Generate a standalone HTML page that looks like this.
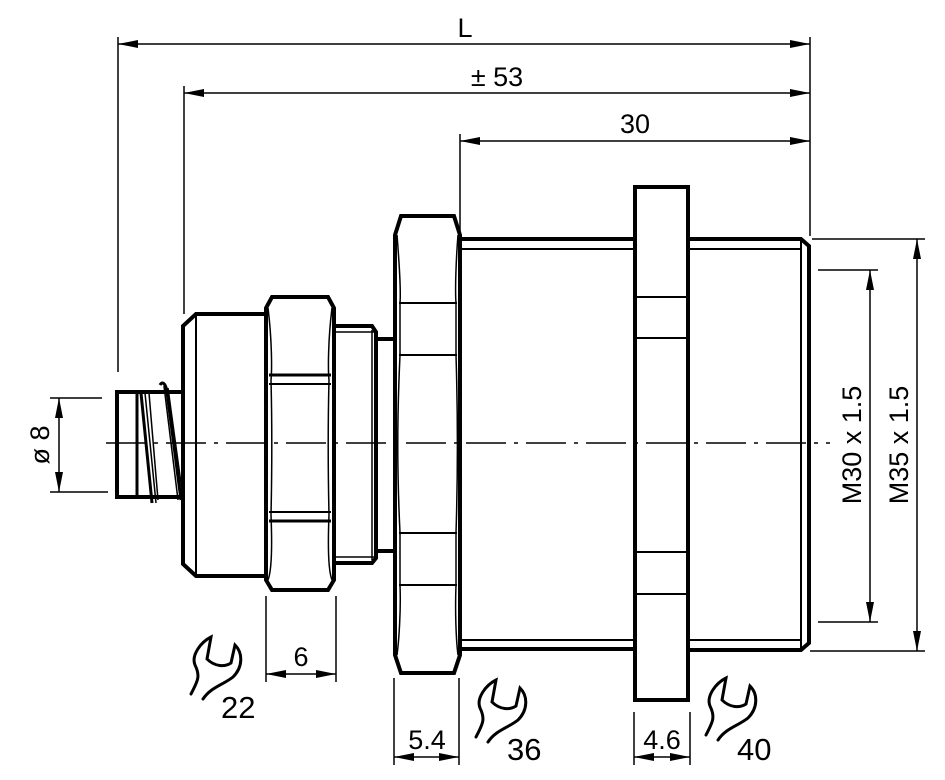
<!DOCTYPE html>
<html><head><meta charset="utf-8"><style>
html,body{margin:0;padding:0;background:#fff}
svg{display:block}
text{font-family:"Liberation Sans",Arial,sans-serif;fill:#000}
</style></head><body>
<svg width="945" height="780" viewBox="0 0 945 780" xmlns="http://www.w3.org/2000/svg">
<defs>
<marker id="a" viewBox="0 0 20 8" refX="20" refY="4" markerWidth="20" markerHeight="8" markerUnits="userSpaceOnUse" orient="auto-start-reverse"><path d="M0,0 L20,4 L0,8 Z" fill="#000"/></marker>
</defs>
<g stroke="#000" fill="none">
<g stroke-width="1.5">
<line x1="118" y1="37" x2="118" y2="372"/>
<line x1="810" y1="37" x2="810" y2="236"/>
<line x1="184" y1="86" x2="184" y2="314"/>
<line x1="460" y1="134" x2="460" y2="236"/>
<line x1="118" y1="44" x2="810" y2="44" marker-start="url(#a)" marker-end="url(#a)"/>
<line x1="184" y1="93" x2="810" y2="93" marker-start="url(#a)" marker-end="url(#a)"/>
<line x1="460" y1="141" x2="810" y2="141" marker-start="url(#a)" marker-end="url(#a)"/>
<line x1="50" y1="398" x2="102" y2="398"/>
<line x1="50" y1="492" x2="108" y2="492"/>
<line x1="59" y1="398" x2="59" y2="492" marker-start="url(#a)" marker-end="url(#a)"/>
<line x1="818" y1="270" x2="878" y2="270"/>
<line x1="818" y1="622" x2="878" y2="622"/>
<line x1="870" y1="270" x2="870" y2="622" marker-start="url(#a)" marker-end="url(#a)"/>
<line x1="812" y1="239" x2="925" y2="239"/>
<line x1="810" y1="651" x2="925" y2="651"/>
<line x1="917" y1="239" x2="917" y2="651" marker-start="url(#a)" marker-end="url(#a)"/>
<line x1="266" y1="596" x2="266" y2="682"/>
<line x1="336" y1="596" x2="336" y2="682"/>
<line x1="266" y1="674" x2="336" y2="674" marker-start="url(#a)" marker-end="url(#a)"/>
<line x1="394" y1="678" x2="394" y2="765"/>
<line x1="459" y1="678" x2="459" y2="765"/>
<line x1="394" y1="757" x2="459" y2="757" marker-start="url(#a)" marker-end="url(#a)"/>
<line x1="634" y1="712" x2="634" y2="765"/>
<line x1="690" y1="712" x2="690" y2="765"/>
<line x1="634" y1="757" x2="690" y2="757" marker-start="url(#a)" marker-end="url(#a)"/>
</g>
<line x1="106" y1="443" x2="830" y2="443" stroke-width="1.5" stroke-dasharray="40,8,4,8"/>

<!-- connector -->
<g stroke-width="4">
<path d="M182,392 L117,392 L117,497 L182,497"/>
<line x1="137" y1="392" x2="137" y2="497" stroke-width="3"/>
<path d="M141,393 L152,503" stroke-width="3"/>
<path d="M145,393 L156,503" stroke-width="1.5"/>
<path d="M149,393 L158,500" stroke-width="1.5"/>
<path d="M160,385 C163,380 166,385 167,392 L181,500" stroke-width="3"/>
<path d="M164,386 L178,500" stroke-width="1.5"/>
<path d="M168,388 L183,498" stroke-width="1.5"/>
</g>
<g stroke-width="4">
<path d="M196,314 L266,314 L266,576 L196,576 L183,564 L183,326 Z"/>
<line x1="196" y1="314" x2="196" y2="576" stroke-width="2"/>
<path d="M272,297 L328,297 L334,308 L334,580 L328,590 L272,590 L266,580 L266,308 Z"/>
<line x1="269" y1="375" x2="331" y2="375" stroke-width="3"/>
<line x1="269" y1="384" x2="331" y2="384" stroke-width="2"/>
<line x1="269" y1="512" x2="331" y2="512" stroke-width="2"/>
<line x1="269" y1="521" x2="331" y2="521" stroke-width="3"/>
<path d="M268,308 C272,340 272,370 271,380 C272,420 272,470 271,515 C272,540 272,570 268,580" stroke-width="1.5"/>
<path d="M332,308 C328,340 328,370 329,380 C328,420 328,470 329,515 C328,540 328,570 332,580" stroke-width="1.5"/>
<path d="M334,326 L372,326 L376,332 L376,558 L372,563 L334,563"/>
<line x1="336" y1="332" x2="374" y2="332" stroke-width="1.5"/>
<line x1="336" y1="557" x2="374" y2="557" stroke-width="1.5"/>
<line x1="372" y1="330" x2="372" y2="560" stroke-width="1.5"/>
<path d="M376,339 L393,339 M376,551 L393,551"/>
<path d="M401,216 L454,216 L460,235 L460,655 L454,673 L401,673 L395,655 L395,235 Z"/>
<line x1="399" y1="303" x2="457" y2="303" stroke-width="2"/>
<line x1="399" y1="355" x2="457" y2="355" stroke-width="2"/>
<line x1="399" y1="533" x2="457" y2="533" stroke-width="2"/>
<line x1="399" y1="585" x2="457" y2="585" stroke-width="2"/>
<path d="M397,235 C399,260 401,290 400,303 L400,355 C397,420 397,470 400,533 L400,585 C401,610 399,640 397,655" stroke-width="1.5"/>
<path d="M458,235 C456,260 455,290 456,303 L456,355 C458,420 458,470 456,533 L456,585 C455,610 456,640 458,655" stroke-width="1.5"/>
<line x1="460" y1="239" x2="635" y2="239"/>
<line x1="460" y1="649" x2="635" y2="649"/>
<line x1="460" y1="249" x2="635" y2="249" stroke-width="2"/>
<line x1="460" y1="640" x2="635" y2="640" stroke-width="2"/>
<rect x="635" y="187" width="53" height="513"/>
<line x1="637" y1="297" x2="686" y2="297" stroke-width="2"/>
<line x1="637" y1="338" x2="686" y2="338" stroke-width="2"/>
<line x1="637" y1="552" x2="686" y2="552" stroke-width="2"/>
<line x1="637" y1="594" x2="686" y2="594" stroke-width="2"/>
<path d="M688,239 L801,239 L809,246 L809,643 L801,650 L688,650"/>
<line x1="688" y1="249" x2="801" y2="249" stroke-width="2"/>
<line x1="688" y1="640" x2="801" y2="640" stroke-width="2"/>
<line x1="801" y1="241" x2="801" y2="648" stroke-width="2"/>
</g>
<g stroke-width="3" stroke-linecap="round">
<path transform="translate(191,637)" d="M0,57 C6,45 10,40 4,28 C0,18 10,5 20,0 L16,22 C24,30 34,30 40,26 L44,8 C52,16 52,30 42,40 C32,48 20,50 12,62"/>
<path transform="translate(476,680)" d="M0,57 C6,45 10,40 4,28 C0,18 10,5 20,0 L16,22 C24,30 34,30 40,26 L44,8 C52,16 52,30 42,40 C32,48 20,50 12,62"/>
<path transform="translate(706,678)" d="M0,57 C6,45 10,40 4,28 C0,18 10,5 20,0 L16,22 C24,30 34,30 40,26 L44,8 C52,16 52,30 42,40 C32,48 20,50 12,62"/>
</g>
</g>
<g font-size="27">
<text x="465" y="37" text-anchor="middle">L</text>
<text x="497" y="86" text-anchor="middle">± 53</text>
<text x="635" y="133" text-anchor="middle">30</text>
<text x="301" y="666" text-anchor="middle">6</text>
<text x="427" y="749" text-anchor="middle">5.4</text>
<text x="662" y="749" text-anchor="middle">4.6</text>
<text transform="translate(49,445) rotate(-90)" text-anchor="middle">ø 8</text>
<text transform="translate(861,445) rotate(-90)" text-anchor="middle">M30 x 1.5</text>
<text transform="translate(908,445) rotate(-90)" text-anchor="middle">M35 x 1.5</text>
</g>
<g font-size="31">
<text x="221" y="718">22</text>
<text x="507" y="760">36</text>
<text x="737" y="760">40</text>
</g>
</svg>
</body></html>
